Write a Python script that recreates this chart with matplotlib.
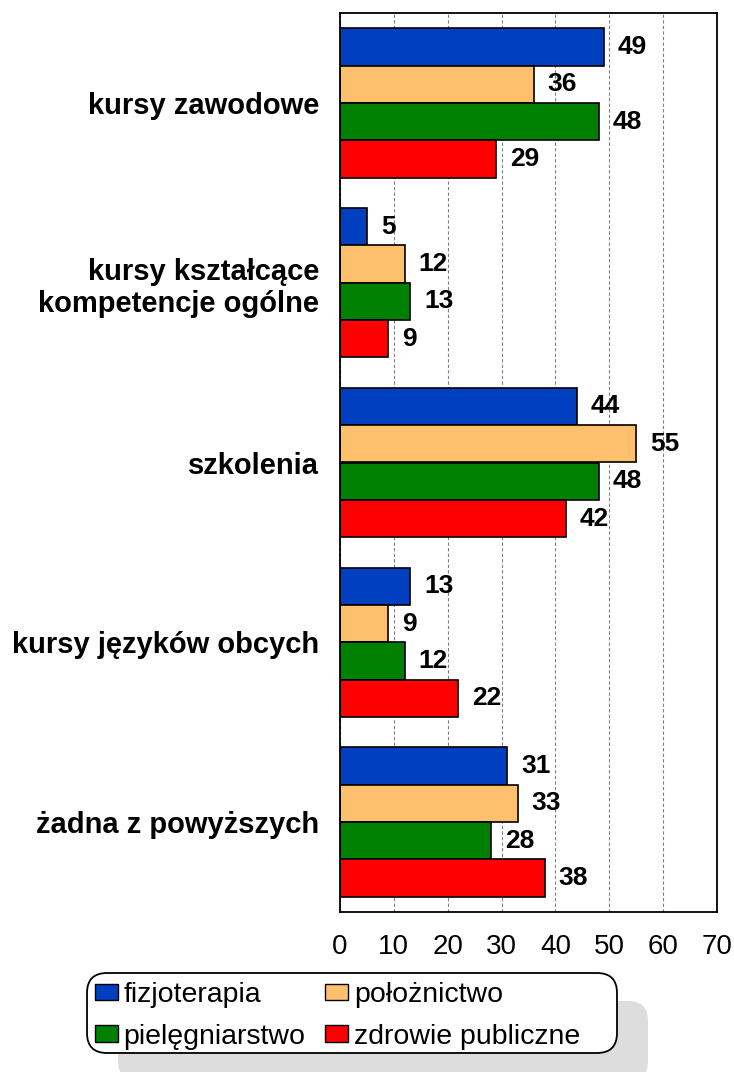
import matplotlib.pyplot as plt
from matplotlib.patches import FancyBboxPatch, Patch

plt.rcParams['font.family'] = ['Liberation Sans', 'DejaVu Sans']

# data
categories = ["kursy zawodowe", "kursy kształcące\nkompetencje ogólne", "szkolenia",
              "kursy języków obcych", "żadna z powyższych"]
series_names = ["fizjoterapia", "położnictwo", "pielęgniarstwo", "zdrowie publiczne"]
fizjoterapia = [49, 5, 44, 13, 31]
poloznictwo = [36, 12, 55, 9, 33]
pielegniarstwo = [48, 13, 48, 12, 28]
zdrowie_publiczne = [29, 9, 42, 22, 38]
x_ticks = [0, 10, 20, 30, 40, 50, 60, 70]

values = [fizjoterapia, poloznictwo, pielegniarstwo, zdrowie_publiczne]
colors = ["#0040C0", "#FFC06E", "#008000", "#FF0000"]

fig = plt.figure(figsize=(7.34, 10.72), dpi=100)
ax = fig.add_axes([340/734, 160/1072, 377/734, 899/1072])

h = 0.208
for j, vals in enumerate(values):
    ypos = [i + (j - 1.5) * h for i in range(len(categories))]
    ax.barh(ypos, vals, height=h, color=colors[j], edgecolor="black", linewidth=1.2, zorder=2)
    for y, v in zip(ypos, vals):
        ax.annotate(str(v), (v, y), xytext=(10, 0), textcoords="offset points",
                    ha="left", va="center", fontsize=19, fontweight="bold")

ax.set_xlim(0, 70)
ax.set_ylim(len(categories) - 0.5, -0.5)
ax.set_xticks(x_ticks)
ax.set_xticklabels([str(t) for t in x_ticks], fontsize=20)
ax.set_yticks(range(len(categories)))
ax.set_yticklabels(categories, fontsize=21, fontweight="bold")
for lab in ax.get_yticklabels():
    lab.set_linespacing(1.2)
ax.tick_params(axis="x", length=0, pad=16)
ax.tick_params(axis="y", length=0, pad=15)
ax.grid(axis="x", color="#808080", linestyle=(0, (3, 2)), linewidth=0.8)
ax.set_axisbelow(True)
for s in ax.spines.values():
    s.set_linewidth(1.3)

# legend box + grey shadow, drawn in inches
shadow = FancyBboxPatch((0.87 + 0.31, 0.19 - 0.28), 5.30, 0.80,
                        boxstyle="round,pad=0,rounding_size=0.2",
                        transform=fig.dpi_scale_trans, facecolor="#dddddd",
                        edgecolor="none", zorder=0)
box = FancyBboxPatch((0.87, 0.19), 5.30, 0.80,
                     boxstyle="round,pad=0,rounding_size=0.2",
                     transform=fig.dpi_scale_trans, facecolor="white",
                     edgecolor="black", linewidth=1.3, zorder=1)
fig.patches.append(shadow)
fig.patches.append(box)

# legend fills column by column, so order gives rows like the original
order = [0, 2, 1, 3]
handles = [Patch(facecolor=colors[k], edgecolor="black", linewidth=1) for k in order]
labels = [series_names[k] for k in order]
leg = fig.legend(handles, labels, ncol=2, loc="upper left",
                 bbox_to_anchor=(95/734, (1072-982)/1072), frameon=False,
                 fontsize=20.5, borderpad=0, borderaxespad=0,
                 handlelength=0.8, handleheight=0.5, handletextpad=0.2,
                 labelspacing=0.55, columnspacing=0.7)
leg.set_zorder(3)

fig.savefig("out.png", dpi=100)
